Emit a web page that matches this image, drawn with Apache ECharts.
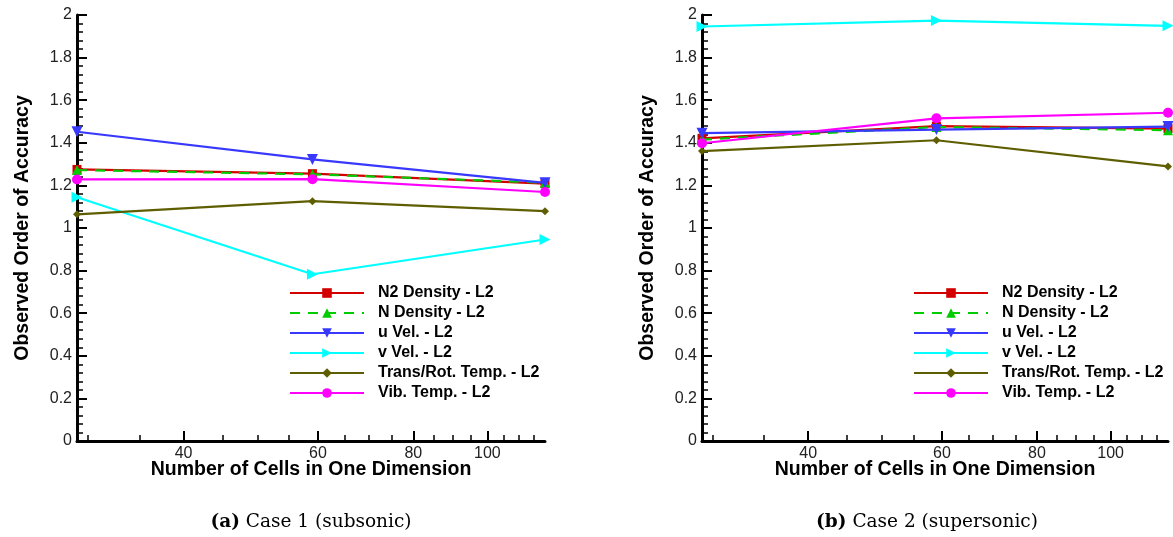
<!DOCTYPE html>
<html>
<head>
<meta charset="utf-8">
<script src="https://cdn.jsdelivr.net/npm/echarts@6/dist/echarts.min.js"></script>
<style>
  html, body { margin: 0; padding: 0; background: #fff; }
  #box { width: 1173px; height: 537px; }
</style>
</head>
<body>
<div id="box"></div>
<script>
  // x: number of cells (log axis)
  var cells = [29, 59, 119];
  var xMajor = [40, 60, 80, 100];
  var xMinor = [30, 35, 45, 50, 55, 65, 70, 75, 85, 90, 95, 105, 110, 115];
  var names = ["N2 Density - L2", "N Density - L2", "u Vel. - L2", "v Vel. - L2", "Trans/Rot. Temp. - L2", "Vib. Temp. - L2"];

  // case 1 (subsonic)
  var n2Case1 = [1.275, 1.255, 1.208];
  var nCase1 = [1.272, 1.252, 1.213];
  var uCase1 = [1.452, 1.322, 1.212];
  var vCase1 = [1.144, 0.783, 0.946];
  var trCase1 = [1.064, 1.126, 1.079];
  var vibCase1 = [1.228, 1.229, 1.169];

  // case 2 (supersonic)
  var n2Case2 = [1.421, 1.478, 1.467];
  var nCase2 = [1.415, 1.474, 1.459];
  var uCase2 = [1.445, 1.462, 1.476];
  var vCase2 = [1.946, 1.974, 1.949];
  var trCase2 = [1.361, 1.412, 1.289];
  var vibCase2 = [1.398, 1.515, 1.541];

  var case1 = [n2Case1, nCase1, uCase1, vCase1, trCase1, vibCase1];
  var case2 = [n2Case2, nCase2, uCase2, vCase2, trCase2, vibCase2];

  var colors = ["#d40000", "#00cc00", "#3838ff", "#00ffff", "#5e5e00", "#ff00ff"];
  var symbols = ["rect", "triangle", "triangle", "triangle", "diamond", "circle"];
  var rotates = [0, 0, 180, -90, 0, 0];
  var sizes = [9, 10, 11, 11, 8, 10];

  var font = "Liberation Sans, Arial, sans-serif";

  var grids = [
    { left: 77, top: 15, width: 468, bottom: 96 },
    { left: 702, top: 15, width: 466, bottom: 96 }
  ];

  function mainX(g) {
    return {
      type: "log", logBase: 10, gridIndex: g, min: 29, max: 119, position: "bottom",
      name: "Number of Cells in One Dimension", nameLocation: "middle", nameGap: 19, nameMoveOverlap: false,
      nameTextStyle: { fontFamily: font, fontWeight: "bold", fontSize: 19.5, color: "#000" },
      axisLine: { lineStyle: { color: "#000", width: 3 } },
      axisTick: { inside: true, length: 10, customValues: xMajor, lineStyle: { color: "#000", width: 2 } },
      axisLabel: { customValues: xMajor, margin: 5, fontFamily: font, fontSize: 16, color: "#222",
        formatter: function (v) { return String(Math.round(v)); } },
      splitLine: { show: false },
      minorTick: { show: false }
    };
  }
  function minorX(g) {
    return {
      type: "log", logBase: 10, gridIndex: g, min: 29, max: 119, position: "bottom",
      axisLine: { show: false },
      axisTick: { inside: true, length: 6, customValues: xMinor, lineStyle: { color: "#000", width: 1.5 } },
      axisLabel: { show: false },
      splitLine: { show: false }
    };
  }
  function mainY(g) {
    return {
      type: "value", gridIndex: g, min: 0, max: 2, interval: 0.2,
      name: "Observed Order of Accuracy", nameLocation: "middle", nameGap: 44,
      nameTextStyle: { fontFamily: font, fontWeight: "bold", fontSize: 19.5, color: "#000" },
      axisLine: { show: true, lineStyle: { color: "#000", width: 3 } },
      axisTick: { show: true, inside: true, length: 10, lineStyle: { color: "#000", width: 2 } },
      minorTick: { show: true, splitNumber: 5, length: 6, lineStyle: { color: "#000", width: 1.5 } },
      axisLabel: { margin: 5, fontFamily: font, fontSize: 16, color: "#222" },
      splitLine: { show: false }
    };
  }

  var series = [];
  [case1, case2].forEach(function (vals, g) {
    vals.forEach(function (ys, i) {
      series.push({
        name: names[i], type: "line", xAxisIndex: g * 2, yAxisIndex: g,
        data: cells.map(function (c, k) { return [c, ys[k]]; }),
        symbol: symbols[i], symbolRotate: rotates[i], symbolSize: sizes[i],
        showAllSymbol: true, clip: false,
        lineStyle: { color: colors[i], width: 2.2, type: i === 1 ? [10, 8] : "solid" },
        itemStyle: { color: colors[i] },
        emphasis: { disabled: true },
        z: 3 + i
      });
    });
  });

  function legendAt(x) {
    return {
      data: names, orient: "vertical", left: x, top: 283, padding: 0, itemGap: 0,
      itemWidth: 74, itemHeight: 12, selectedMode: false,
      textStyle: { fontFamily: font, fontWeight: "bold", fontSize: 16, color: "#000", lineHeight: 20, padding: [0, 0, 0, 9] }
    };
  }

  var capFont = "18.5px DejaVu Serif";
  var capRich = { b: { fontWeight: "bold", fontFamily: "DejaVu Serif", fontSize: 18.5 } };

  var chart = echarts.init(document.getElementById("box"), null, { renderer: "canvas" });
  chart.setOption({
    animation: false,
    backgroundColor: "#fff",
    grid: grids,
    xAxis: [mainX(0), minorX(0), mainX(1), minorX(1)],
    yAxis: [mainY(0), mainY(1)],
    legend: [legendAt(289), legendAt(913)],
    series: series,
    graphic: [
      { type: "text", x: 311, y: 522, style: { text: "{b|(a)} Case 1 (subsonic)", align: "center", verticalAlign: "middle",
          font: capFont, fill: "#000", rich: capRich } },
      { type: "text", x: 927, y: 522, style: { text: "{b|(b)} Case 2 (supersonic)", align: "center", verticalAlign: "middle",
          font: capFont, fill: "#000", rich: capRich } }
    ]
  });
</script>
</body>
</html>
